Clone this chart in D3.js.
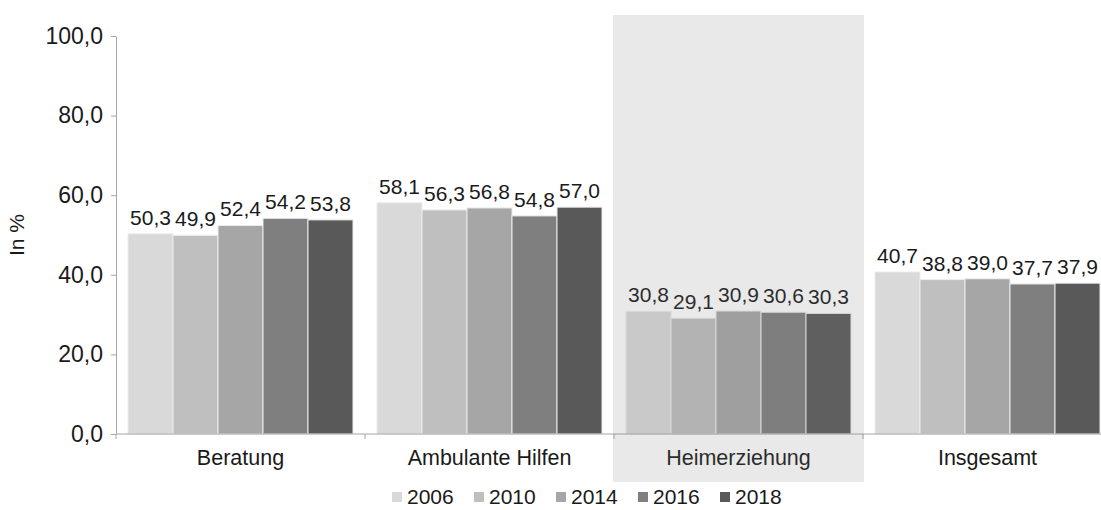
<!DOCTYPE html>
<html lang="de">
<head>
<meta charset="utf-8">
<title>In %</title>
<script src="https://d3js.org/d3.v7.min.js"></script>
<style>
  body { margin: 0; background: #fff; }
  svg { display: block; font-family: "Liberation Sans", Arial, sans-serif; }
</style>
</head>
<body>
<div id="chart"></div>
<script>
// data
var categories = ["Beratung", "Ambulante Hilfen", "Heimerziehung", "Insgesamt"];
var years = ["2006", "2010", "2014", "2016", "2018"];
var v2006 = [50.3, 58.1, 30.8, 40.7];
var v2010 = [49.9, 56.3, 29.1, 38.8];
var v2014 = [52.4, 56.8, 30.9, 39.0];
var v2016 = [54.2, 54.8, 30.6, 37.7];
var v2018 = [53.8, 57.0, 30.3, 37.9];
var yTicks = [0, 20, 40, 60, 80, 100];
var highlighted = "Heimerziehung";

var series = [v2006, v2010, v2014, v2016, v2018];
var colors = ["#d9d9d9", "#bfbfbf", "#a6a6a6", "#7f7f7f", "#595959"];

var W = 1101, H = 510;
var svg = d3.select("#chart").append("svg")
  .attr("width", W).attr("height", H);

var x0 = d3.scaleBand().domain(categories).range([116, 1112]);
var x1 = d3.scaleBand().domain(years).range([12, x0.bandwidth() - 12]);
var y = d3.scaleLinear().domain([0, 100]).range([434, 36]);
var color = d3.scaleOrdinal().domain(years).range(colors);

var fmt = function(d) { return d3.format(".1f")(d).replace(".", ","); };

// y axis
var yAxis = svg.append("g")
  .attr("transform", "translate(116,0)")
  .call(d3.axisLeft(y).tickValues(yTicks).tickSize(5).tickSizeOuter(0).tickPadding(8).tickFormat(fmt));
yAxis.select(".domain").attr("stroke", "#a6a6a6");
yAxis.selectAll(".tick line").attr("stroke", "#a6a6a6");
yAxis.selectAll(".tick text")
  .attr("font-size", 23).attr("fill", "#1a1a1a")
  .attr("font-family", "Liberation Sans, Arial, sans-serif");

svg.append("text")
  .attr("transform", "translate(24," + y(50) + ") rotate(-90)")
  .attr("text-anchor", "middle")
  .attr("font-size", 21)
  .attr("fill", "#1a1a1a")
  .text("In %");

// bars
var rows = [];
categories.forEach(function(c, i) {
  years.forEach(function(yr, j) {
    rows.push({cat: c, year: yr, value: series[j][i]});
  });
});

svg.append("g").selectAll("rect")
  .data(rows).enter().append("rect")
  .attr("x", function(d) { return x0(d.cat) + x1(d.year); })
  .attr("y", function(d) { return y(d.value); })
  .attr("width", x1.bandwidth())
  .attr("height", function(d) { return y(0) - y(d.value); })
  .attr("fill", function(d) { return color(d.year); })
  .attr("stroke", "#ececec")
  .attr("stroke-width", 1);

svg.append("g").selectAll("text")
  .data(rows).enter().append("text")
  .attr("x", function(d) { return x0(d.cat) + x1(d.year) + x1.bandwidth() / 2; })
  .attr("y", function(d) { return y(d.value) - 9; })
  .attr("text-anchor", "middle")
  .attr("font-size", 21)
  .attr("fill", "#1a1a1a")
  .text(function(d) { return fmt(d.value); });

// x axis
var xAxis = svg.append("g").attr("transform", "translate(0," + y(0) + ")");
xAxis.append("line")
  .attr("x1", x0.range()[0]).attr("x2", x0.range()[1])
  .attr("stroke", "#a6a6a6");
var bounds = categories.map(function(c) { return x0(c); }).concat([x0.range()[1]]);
xAxis.selectAll(".tk").data(bounds).enter().append("line")
  .attr("x1", function(d) { return d; }).attr("x2", function(d) { return d; })
  .attr("y1", 0).attr("y2", 5)
  .attr("stroke", "#a6a6a6");
xAxis.selectAll(".lbl").data(categories).enter().append("text")
  .attr("x", function(d) { return x0(d) + x0.bandwidth() / 2; })
  .attr("y", 31)
  .attr("text-anchor", "middle")
  .attr("font-size", 21.5)
  .attr("fill", "#1a1a1a")
  .text(function(d) { return d; });

// highlight overlay
svg.append("rect")
  .attr("x", x0(highlighted) - 1)
  .attr("y", 15)
  .attr("width", x0.bandwidth() + 2)
  .attr("height", 467)
  .attr("fill", "rgb(124,124,124)")
  .attr("fill-opacity", 0.17);

// legend
var legend = svg.append("g").selectAll("g")
  .data(years).enter().append("g")
  .attr("transform", function(d, i) { return "translate(" + (392 + i * 82) + ",492)"; });
legend.append("rect")
  .attr("width", 10).attr("height", 10)
  .attr("fill", function(d) { return color(d); });
legend.append("text")
  .attr("x", 15).attr("y", 12)
  .attr("font-size", 21)
  .attr("fill", "#1a1a1a")
  .text(function(d) { return d; });
</script>
</body>
</html>
